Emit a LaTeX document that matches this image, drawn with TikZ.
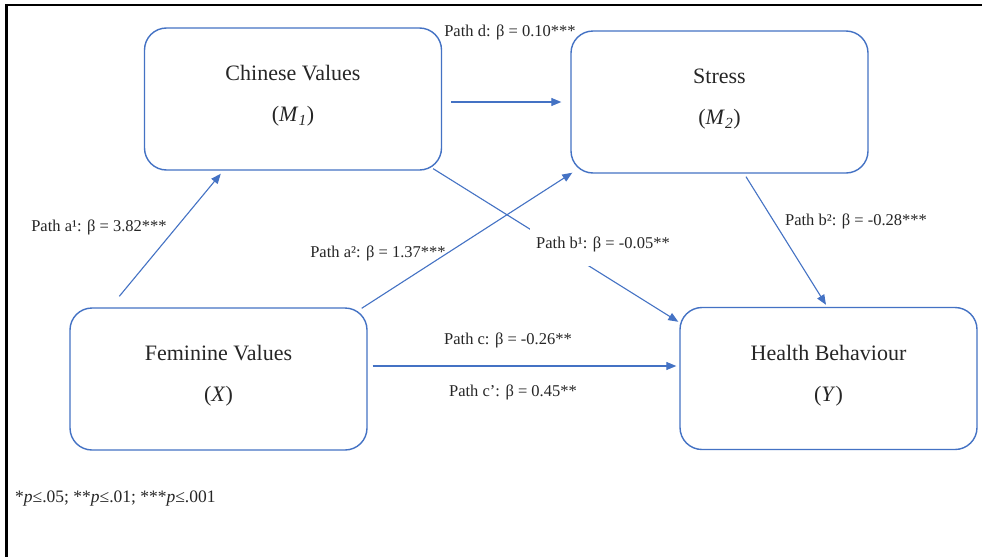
\documentclass[tikz,border=0pt]{standalone}
\usepackage{fontspec}
\setmainfont{Liberation Serif}
\usetikzlibrary{arrows.meta}
\definecolor{wordblue}{HTML}{4472C4}
\definecolor{ink}{HTML}{262626}
\newcommand{\twoline}[2]{\begin{tabular}[b]{@{}c@{}}#1\\[15pt]#2\end{tabular}}
\tikzset{
  varbox/.style={draw=wordblue, line width=1.4pt, rounded corners=22pt,
    minimum width=297pt, minimum height=142pt, inner sep=0pt, text=ink,
    font=\fontsize{22}{26.4}\selectfont, text depth=14pt},
  conn/.style={draw=wordblue, line width=1.1pt, -{Triangle[length=10pt,width=8pt]}},
  pathlabel/.style={text=ink, font=\fontsize{16.5}{19.8}\selectfont, inner sep=0pt},
}
\begin{document}
\begin{tikzpicture}[x=1pt, y=-1pt]
\useasboundingbox[fill=white] (0,0) rectangle (982,557);
\draw[line width=2.2pt] (982,5) -- (6.5,5) -- (6.5,557);

\node[varbox] (chn) at (293,99) {\twoline{Chinese Values}{(\textit{M}\textsubscript{\textit{1}})}};
\node[varbox] (str) at (719.5,102) {\twoline{Stress}{(\textit{M}\textsubscript{\textit{2}})}};
\node[varbox] (fem) at (218.5,379) {\twoline{Feminine Values}{(\textit{X})}};
\node[varbox] (hea) at (828.5,378.5) {\twoline{Health Behaviour}{(\textit{Y})}};

% connectors
\draw[conn] ([xshift=50pt,yshift=11pt]fem.north west) -- ([xshift=77pt,yshift=-3pt]chn.south west);
\draw[conn] ([xshift=9pt,yshift=-3pt]chn.east) -- ([xshift=-9pt]str.west);
\draw[conn] ([xshift=-6pt,yshift=-1pt]fem.north east) -- ([xshift=2pt,yshift=1pt]str.south west);
\draw[conn] ([xshift=-9pt,yshift=2pt]chn.south east) -- ([xshift=-1pt,yshift=-15pt]hea.north west);
\draw[conn] ([xshift=26.5pt,yshift=-3pt]str.south) -- ([xshift=-2.5pt,yshift=2pt]hea.north);
\draw[conn] ([xshift=5pt,yshift=13pt]fem.east) -- ([xshift=-3pt,yshift=12.5pt]hea.west);

% labels
\node[pathlabel] (ld) at (510,32) {Path d: β = 0.10***};
\node[pathlabel] (la1) at (99,227) {Path a¹: β = 3.82***};
\node[pathlabel] (la2) at (378,253) {Path a²: β = 1.37***};
\node[pathlabel, fill=white, minimum width=146pt, minimum height=44pt] (lb1) at (603,244) {Path b¹: β = -0.05**};
\node[pathlabel] (lb2) at (856,221) {Path b²: β = -0.28***};
\node[pathlabel] (lc) at (508,340) {Path c: β = -0.26**};
\node[pathlabel] (lcp) at (513,392) {Path c’: β = 0.45**};

\node[text=ink, anchor=west, inner sep=0pt, font=\fontsize{17.5}{21}\selectfont] (note) at (15,499)
  {*\textit{p}≤.05; **\textit{p}≤.01; ***\textit{p}≤.001};
\end{tikzpicture}
\end{document}
